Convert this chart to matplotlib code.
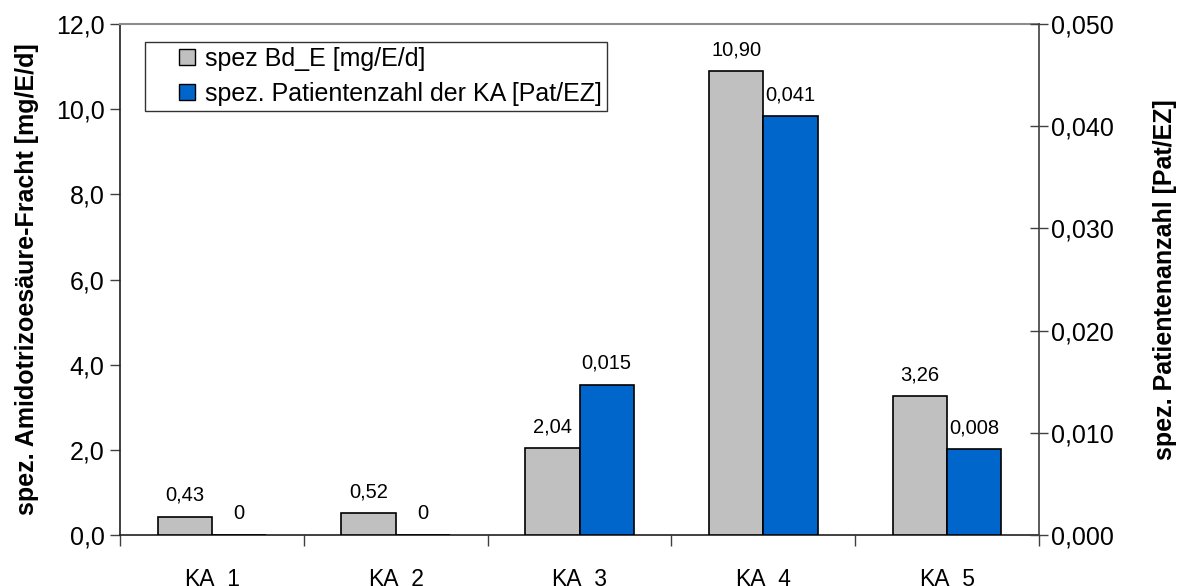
import matplotlib
matplotlib.use("Agg")
import matplotlib.pyplot as plt
import numpy as np
from matplotlib.ticker import FuncFormatter
from matplotlib.lines import Line2D

plt.rcParams['font.family'] = ['Liberation Sans', 'DejaVu Sans']

categories = ["KA_1", "KA_2", "KA_3", "KA_4", "KA_5"]
bd_e = [0.43, 0.52, 2.04, 10.90, 3.26]
patients = [0.0, 0.0, 0.0147, 0.0410, 0.0084]
bd_labels = ["0,43", "0,52", "2,04", "10,90", "3,26"]
pat_labels = ["0", "0", "0,015", "0,041", "0,008"]
legend_labels = ["spez Bd_E [mg/E/d]", "spez. Patientenzahl der KA [Pat/EZ]"]
ylabel_left = "spez. Amidotrizoesäure-Fracht [mg/E/d]"
ylabel_right = "spez. Patientenanzahl [Pat/EZ]"

gray = "#c0c0c0"
blue = "#0066cc"

W, H = 1179, 586
fig = plt.figure(figsize=(W/100, H/100), dpi=100)
ax = fig.add_axes([120/W, 1-535/H, (1039-120)/W, (535-24)/H])
ax2 = ax.twinx()

x = np.arange(len(categories))
w = 0.295
ax.bar(x - w/2, bd_e, w, color=gray, edgecolor="black", linewidth=1.2, zorder=3)
ax2.bar(x + w/2, patients, w, color=blue, edgecolor="black", linewidth=1.2, zorder=3)

ax.set_xlim(-0.5, len(categories) - 0.5)
ax.set_ylim(0, 12)
ax2.set_ylim(0, 0.05)
ax.set_yticks(np.arange(0, 12.1, 2))
ax2.set_yticks(np.arange(0, 0.0501, 0.01))
ax.yaxis.set_major_formatter(FuncFormatter(lambda v, p: f"{v:.1f}".replace(".", ",")))
ax2.yaxis.set_major_formatter(FuncFormatter(lambda v, p: f"{v:.3f}".replace(".", ",")))

ax.set_xticks(x)
ax.set_xticklabels(categories, fontsize=16.5)
ax.set_xticks(np.arange(-0.5, len(categories) + 0.5, 1), minor=True)
ax.tick_params(axis="x", which="major", length=0, pad=24)
ax.tick_params(axis="x", which="minor", length=8, direction="out", color="#404040", width=1)
ax.tick_params(axis="y", length=7, direction="out", labelsize=18, color="#404040", width=1, pad=4)
ax2.tick_params(axis="y", length=13, direction="inout", labelsize=18, color="#404040", width=1, pad=2)

for s in ["left", "bottom"]:
    ax.spines[s].set_color("#202020")
    ax.spines[s].set_linewidth(1.2)
ax.spines["top"].set_color("#8c8c8c")
ax.spines["top"].set_linewidth(1.5)
ax.spines["right"].set_visible(False)
for s in ["left", "bottom", "top"]:
    ax2.spines[s].set_visible(False)
ax2.spines["right"].set_color("#404040")
ax2.spines["right"].set_linewidth(1.2)

ax.set_ylabel(ylabel_left, fontsize=18, fontweight="bold", labelpad=12)
ax2.set_ylabel(ylabel_right, fontsize=18, fontweight="bold", labelpad=28)

for xi, v, lab in zip(x, bd_e, bd_labels):
    ax.annotate(lab, (xi - w/2, v), xytext=(0, 8.5), textcoords="offset points",
                ha="center", va="bottom", fontsize=14.5)
for xi, v, lab in zip(x, patients, pat_labels):
    ax2.annotate(lab, (xi + w/2, v), xytext=(0, 8.5), textcoords="offset points",
                 ha="center", va="bottom", fontsize=14.5)

handles = [Line2D([], [], linestyle="none", marker="s", markersize=11,
                  markerfacecolor=c, markeredgecolor="black", markeredgewidth=1.0)
           for c in (gray, blue)]
leg = ax2.legend(handles, legend_labels, loc="upper left",
                 bbox_to_anchor=((145-120)/919, (535-42)/511),
                 fontsize=18, frameon=True, fancybox=False, edgecolor="black",
                 handlelength=2.96, handletextpad=-0.76,
                 borderpad=0.2, labelspacing=0.44, borderaxespad=0)
leg.get_frame().set_linewidth(1.0)

fig.savefig("out.png", dpi=100)
